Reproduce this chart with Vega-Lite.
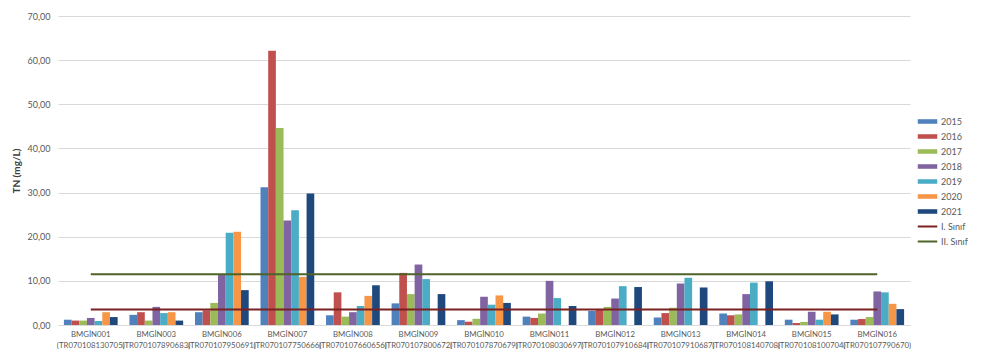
{
  "$schema": "https://vega.github.io/schema/vega-lite/v6.json",
  "width": 852,
  "height": 309,
  "autosize": {"type": "none"},
  "padding": {"left": 58, "top": 16, "right": 89, "bottom": 34},
  "background": "white",
  "config": {
    "font": "Lato",
    "view": {"stroke": null}
  },
  "datasets": {
    "tn": [
      {"station": "BMGİN001|(TR070108130705)", "year": "2015", "value": 1.2},
      {"station": "BMGİN001|(TR070108130705)", "year": "2016", "value": 1.0},
      {"station": "BMGİN001|(TR070108130705)", "year": "2017", "value": 1.0},
      {"station": "BMGİN001|(TR070108130705)", "year": "2018", "value": 1.6},
      {"station": "BMGİN001|(TR070108130705)", "year": "2019", "value": 0.9},
      {"station": "BMGİN001|(TR070108130705)", "year": "2020", "value": 2.9},
      {"station": "BMGİN001|(TR070108130705)", "year": "2021", "value": 1.8},
      {"station": "BMGİN003|(TR070107890683)", "year": "2015", "value": 2.3},
      {"station": "BMGİN003|(TR070107890683)", "year": "2016", "value": 2.9},
      {"station": "BMGİN003|(TR070107890683)", "year": "2017", "value": 1.0},
      {"station": "BMGİN003|(TR070107890683)", "year": "2018", "value": 4.1},
      {"station": "BMGİN003|(TR070107890683)", "year": "2019", "value": 2.7},
      {"station": "BMGİN003|(TR070107890683)", "year": "2020", "value": 2.9},
      {"station": "BMGİN003|(TR070107890683)", "year": "2021", "value": 1.0},
      {"station": "BMGİN006|(TR070107950691)", "year": "2015", "value": 2.9},
      {"station": "BMGİN006|(TR070107950691)", "year": "2016", "value": 3.3},
      {"station": "BMGİN006|(TR070107950691)", "year": "2017", "value": 5.0},
      {"station": "BMGİN006|(TR070107950691)", "year": "2018", "value": 11.5},
      {"station": "BMGİN006|(TR070107950691)", "year": "2019", "value": 20.9},
      {"station": "BMGİN006|(TR070107950691)", "year": "2020", "value": 21.1},
      {"station": "BMGİN006|(TR070107950691)", "year": "2021", "value": 7.9},
      {"station": "BMGİN007|(TR070107750666)", "year": "2015", "value": 31.2},
      {"station": "BMGİN007|(TR070107750666)", "year": "2016", "value": 62.1},
      {"station": "BMGİN007|(TR070107750666)", "year": "2017", "value": 44.6},
      {"station": "BMGİN007|(TR070107750666)", "year": "2018", "value": 23.7},
      {"station": "BMGİN007|(TR070107750666)", "year": "2019", "value": 26.0},
      {"station": "BMGİN007|(TR070107750666)", "year": "2020", "value": 10.9},
      {"station": "BMGİN007|(TR070107750666)", "year": "2021", "value": 29.8},
      {"station": "BMGİN008|(TR070107660656)", "year": "2015", "value": 2.2},
      {"station": "BMGİN008|(TR070107660656)", "year": "2016", "value": 7.4},
      {"station": "BMGİN008|(TR070107660656)", "year": "2017", "value": 1.9},
      {"station": "BMGİN008|(TR070107660656)", "year": "2018", "value": 2.9},
      {"station": "BMGİN008|(TR070107660656)", "year": "2019", "value": 4.3},
      {"station": "BMGİN008|(TR070107660656)", "year": "2020", "value": 6.6},
      {"station": "BMGİN008|(TR070107660656)", "year": "2021", "value": 9.0},
      {"station": "BMGİN009|(TR070107800672)", "year": "2015", "value": 4.9},
      {"station": "BMGİN009|(TR070107800672)", "year": "2016", "value": 11.8},
      {"station": "BMGİN009|(TR070107800672)", "year": "2017", "value": 7.0},
      {"station": "BMGİN009|(TR070107800672)", "year": "2018", "value": 13.7},
      {"station": "BMGİN009|(TR070107800672)", "year": "2019", "value": 10.4},
      {"station": "BMGİN009|(TR070107800672)", "year": "2021", "value": 7.0},
      {"station": "BMGİN010|(TR070107870679)", "year": "2015", "value": 1.1},
      {"station": "BMGİN010|(TR070107870679)", "year": "2016", "value": 0.75},
      {"station": "BMGİN010|(TR070107870679)", "year": "2017", "value": 1.4},
      {"station": "BMGİN010|(TR070107870679)", "year": "2018", "value": 6.4},
      {"station": "BMGİN010|(TR070107870679)", "year": "2019", "value": 4.6},
      {"station": "BMGİN010|(TR070107870679)", "year": "2020", "value": 6.7},
      {"station": "BMGİN010|(TR070107870679)", "year": "2021", "value": 5.0},
      {"station": "BMGİN011|(TR070108030697)", "year": "2015", "value": 1.9},
      {"station": "BMGİN011|(TR070108030697)", "year": "2016", "value": 1.6},
      {"station": "BMGİN011|(TR070108030697)", "year": "2017", "value": 2.6},
      {"station": "BMGİN011|(TR070108030697)", "year": "2018", "value": 10.0},
      {"station": "BMGİN011|(TR070108030697)", "year": "2019", "value": 6.1},
      {"station": "BMGİN011|(TR070108030697)", "year": "2021", "value": 4.3},
      {"station": "BMGİN012|(TR070107910684)", "year": "2015", "value": 3.2},
      {"station": "BMGİN012|(TR070107910684)", "year": "2016", "value": 3.4},
      {"station": "BMGİN012|(TR070107910684)", "year": "2017", "value": 4.1},
      {"station": "BMGİN012|(TR070107910684)", "year": "2018", "value": 6.0},
      {"station": "BMGİN012|(TR070107910684)", "year": "2019", "value": 8.8},
      {"station": "BMGİN012|(TR070107910684)", "year": "2021", "value": 8.6},
      {"station": "BMGİN013|(TR070107910687)", "year": "2015", "value": 1.7},
      {"station": "BMGİN013|(TR070107910687)", "year": "2016", "value": 2.7},
      {"station": "BMGİN013|(TR070107910687)", "year": "2017", "value": 3.9},
      {"station": "BMGİN013|(TR070107910687)", "year": "2018", "value": 9.4},
      {"station": "BMGİN013|(TR070107910687)", "year": "2019", "value": 10.7},
      {"station": "BMGİN013|(TR070107910687)", "year": "2021", "value": 8.5},
      {"station": "BMGİN014|(TR070108140708)", "year": "2015", "value": 2.6},
      {"station": "BMGİN014|(TR070108140708)", "year": "2016", "value": 2.2},
      {"station": "BMGİN014|(TR070108140708)", "year": "2017", "value": 2.4},
      {"station": "BMGİN014|(TR070108140708)", "year": "2018", "value": 7.0},
      {"station": "BMGİN014|(TR070108140708)", "year": "2019", "value": 9.6},
      {"station": "BMGİN014|(TR070108140708)", "year": "2021", "value": 9.9},
      {"station": "BMGİN015|(TR070108100704)", "year": "2015", "value": 1.2},
      {"station": "BMGİN015|(TR070108100704)", "year": "2016", "value": 0.45},
      {"station": "BMGİN015|(TR070108100704)", "year": "2017", "value": 0.7},
      {"station": "BMGİN015|(TR070108100704)", "year": "2018", "value": 3.0},
      {"station": "BMGİN015|(TR070108100704)", "year": "2019", "value": 1.2},
      {"station": "BMGİN015|(TR070108100704)", "year": "2020", "value": 3.0},
      {"station": "BMGİN015|(TR070108100704)", "year": "2021", "value": 2.4},
      {"station": "BMGİN016|(TR070107790670)", "year": "2015", "value": 1.2},
      {"station": "BMGİN016|(TR070107790670)", "year": "2016", "value": 1.35},
      {"station": "BMGİN016|(TR070107790670)", "year": "2017", "value": 1.8},
      {"station": "BMGİN016|(TR070107790670)", "year": "2018", "value": 7.6},
      {"station": "BMGİN016|(TR070107790670)", "year": "2019", "value": 7.4},
      {"station": "BMGİN016|(TR070107790670)", "year": "2020", "value": 4.8},
      {"station": "BMGİN016|(TR070107790670)", "year": "2021", "value": 3.6}
    ],
    "limits": [
      {"station": "BMGİN001|(TR070108130705)", "class": "I. Sınıf", "value": 3.5},
      {"station": "BMGİN003|(TR070107890683)", "class": "I. Sınıf", "value": 3.5},
      {"station": "BMGİN006|(TR070107950691)", "class": "I. Sınıf", "value": 3.5},
      {"station": "BMGİN007|(TR070107750666)", "class": "I. Sınıf", "value": 3.5},
      {"station": "BMGİN008|(TR070107660656)", "class": "I. Sınıf", "value": 3.5},
      {"station": "BMGİN009|(TR070107800672)", "class": "I. Sınıf", "value": 3.5},
      {"station": "BMGİN010|(TR070107870679)", "class": "I. Sınıf", "value": 3.5},
      {"station": "BMGİN011|(TR070108030697)", "class": "I. Sınıf", "value": 3.5},
      {"station": "BMGİN012|(TR070107910684)", "class": "I. Sınıf", "value": 3.5},
      {"station": "BMGİN013|(TR070107910687)", "class": "I. Sınıf", "value": 3.5},
      {"station": "BMGİN014|(TR070108140708)", "class": "I. Sınıf", "value": 3.5},
      {"station": "BMGİN015|(TR070108100704)", "class": "I. Sınıf", "value": 3.5},
      {"station": "BMGİN016|(TR070107790670)", "class": "I. Sınıf", "value": 3.5},
      {"station": "BMGİN001|(TR070108130705)", "class": "II. Sınıf", "value": 11.5},
      {"station": "BMGİN003|(TR070107890683)", "class": "II. Sınıf", "value": 11.5},
      {"station": "BMGİN006|(TR070107950691)", "class": "II. Sınıf", "value": 11.5},
      {"station": "BMGİN007|(TR070107750666)", "class": "II. Sınıf", "value": 11.5},
      {"station": "BMGİN008|(TR070107660656)", "class": "II. Sınıf", "value": 11.5},
      {"station": "BMGİN009|(TR070107800672)", "class": "II. Sınıf", "value": 11.5},
      {"station": "BMGİN010|(TR070107870679)", "class": "II. Sınıf", "value": 11.5},
      {"station": "BMGİN011|(TR070108030697)", "class": "II. Sınıf", "value": 11.5},
      {"station": "BMGİN012|(TR070107910684)", "class": "II. Sınıf", "value": 11.5},
      {"station": "BMGİN013|(TR070107910687)", "class": "II. Sınıf", "value": 11.5},
      {"station": "BMGİN014|(TR070108140708)", "class": "II. Sınıf", "value": 11.5},
      {"station": "BMGİN015|(TR070108100704)", "class": "II. Sınıf", "value": 11.5},
      {"station": "BMGİN016|(TR070107790670)", "class": "II. Sınıf", "value": 11.5}
    ]
  },
  "layer": [
    {
      "data": {"name": "tn"},
      "mark": {"type": "bar"},
      "encoding": {
        "x": {
          "field": "station",
          "type": "nominal",
          "sort": null,
          "scale": {"paddingInner": 0.18, "paddingOuter": 0.09},
          "axis": {
            "title": null,
            "labelAngle": 0,
            "labelExpr": "split(datum.value, '|')",
            "labelFontSize": 7.8,
            "labelColor": "#595959",
            "labelLineHeight": 11,
            "labelPadding": 5,
            "labelOverlap": false,
            "ticks": false,
            "domain": true,
            "domainColor": "#D9D9D9",
            "grid": false
          }
        },
        "xOffset": {
          "field": "year",
          "type": "nominal",
          "scale": {"domain": ["2015", "2016", "2017", "2018", "2019", "2020", "2021"]}
        },
        "y": {
          "field": "value",
          "type": "quantitative",
          "scale": {"domain": [0, 70], "nice": false},
          "axis": {
            "title": "TN (mg/L)",
            "values": [0, 10, 20, 30, 40, 50, 60, 70],
            "labelExpr": "replace(format(datum.value, '.2f'), '.', ',')",
            "labelFontSize": 9,
            "labelColor": "#595959",
            "labelPadding": 8,
            "ticks": false,
            "domain": false,
            "grid": true,
            "gridColor": "#D9D9D9",
            "titleFontSize": 10,
            "titleFontWeight": "bold",
            "titleColor": "#404040",
            "titlePadding": 6
          }
        },
        "color": {
          "field": "year",
          "type": "nominal",
          "scale": {
            "domain": ["2015", "2016", "2017", "2018", "2019", "2020", "2021"],
            "range": ["#4F81BD", "#C0504D", "#9BBB59", "#8064A2", "#4BACC6", "#F79646", "#1F497D"]
          },
          "legend": {
            "title": null,
            "orient": "none",
            "legendX": 862,
            "legendY": 98,
            "symbolType": "M-1.5,-0.35H1.5V0.35H-1.5Z",
            "symbolSize": 169,
            "rowPadding": 2,
            "labelOffset": 6,
            "labelFontSize": 9,
            "labelColor": "#595959"
          }
        }
      }
    },
    {
      "data": {"name": "limits"},
      "mark": {"type": "line", "strokeWidth": 2},
      "encoding": {
        "x": {"field": "station", "type": "nominal", "sort": null},
        "y": {"field": "value", "type": "quantitative"},
        "color": {
          "field": "class",
          "type": "nominal",
          "scale": {"domain": ["I. Sınıf", "II. Sınıf"], "range": ["#7B2121", "#4F6228"]},
          "legend": {
            "title": null,
            "orient": "none",
            "legendX": 862,
            "legendY": 203,
            "symbolType": "M-1.5,0H1.5",
            "symbolSize": 169,
            "symbolStrokeWidth": 2,
            "rowPadding": 2,
            "labelOffset": 6,
            "labelFontSize": 9,
            "labelColor": "#595959"
          }
        }
      }
    }
  ],
  "resolve": {"scale": {"color": "independent"}}
}
